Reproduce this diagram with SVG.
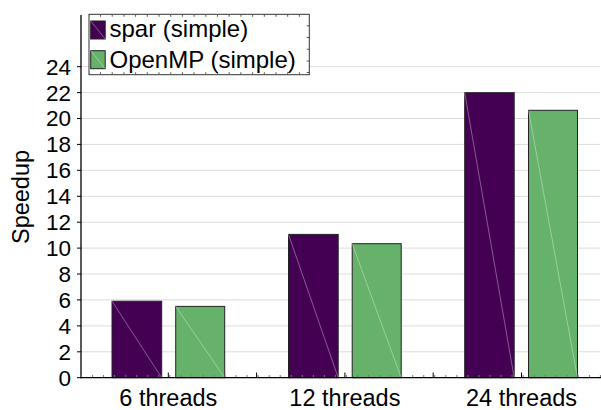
<svg xmlns="http://www.w3.org/2000/svg" width="601" height="410" viewBox="0 0 601 410">
<style>
.grid{stroke:#dcdcdc;stroke-width:1}
.axis{stroke:#000;stroke-width:1.3;fill:none}
.tick{stroke:#000;stroke-width:1}
.lbl{font-family:"Liberation Sans",Arial,sans-serif;font-size:22.5px;fill:#000}
.ytl{text-anchor:end}
.xtl{text-anchor:middle;font-size:23.5px}
.spar{fill:#440154;stroke:#222;stroke-width:1}
.omp{fill:#66b26a;stroke:#222;stroke-width:1}
.diag{stroke:#ffffff;stroke-opacity:0.35;stroke-width:1}
.leg{font-family:"Liberation Sans",Arial,sans-serif;font-size:24px;fill:#000}
</style>
<rect width="601" height="410" fill="#fff"/>
<g id="grid">
<line class="grid" x1="81" y1="351.8" x2="600" y2="351.8"/>
<line class="grid" x1="81" y1="325.9" x2="600" y2="325.9"/>
<line class="grid" x1="81" y1="299.9" x2="600" y2="299.9"/>
<line class="grid" x1="81" y1="274.0" x2="600" y2="274.0"/>
<line class="grid" x1="81" y1="248.1" x2="600" y2="248.1"/>
<line class="grid" x1="81" y1="222.2" x2="600" y2="222.2"/>
<line class="grid" x1="81" y1="196.3" x2="600" y2="196.3"/>
<line class="grid" x1="81" y1="170.3" x2="600" y2="170.3"/>
<line class="grid" x1="81" y1="144.4" x2="600" y2="144.4"/>
<line class="grid" x1="81" y1="118.5" x2="600" y2="118.5"/>
<line class="grid" x1="81" y1="92.6" x2="600" y2="92.6"/>
<line class="grid" x1="81" y1="66.7" x2="600" y2="66.7"/>
</g>
<g id="bars">
<g id="g6-spar"><rect class="spar" x="112" y="301.2" width="49.7" height="76.5"/><line class="diag" x1="112" y1="301.2" x2="161.7" y2="377.7"/></g>
<g id="g6-omp"><rect class="omp" x="175.7" y="306.4" width="49" height="71.3"/><line class="diag" x1="175.7" y1="306.4" x2="224.7" y2="377.7"/></g>
<g id="g12-spar"><rect class="spar" x="288.5" y="234.4" width="49.7" height="143.3"/><line class="diag" x1="288.5" y1="234.4" x2="338.2" y2="377.7"/></g>
<g id="g12-omp"><rect class="omp" x="352.2" y="243.7" width="49" height="134"/><line class="diag" x1="352.2" y1="243.7" x2="401.2" y2="377.7"/></g>
<g id="g24-spar"><rect class="spar" x="464.7" y="92.7" width="49.5" height="285"/><line class="diag" x1="464.7" y1="92.7" x2="514.2" y2="377.7"/></g>
<g id="g24-omp"><rect class="omp" x="528.5" y="110.3" width="49" height="267.4"/><line class="diag" x1="528.5" y1="110.3" x2="577.5" y2="377.7"/></g>
</g>
<g id="axes">
<line class="axis" x1="81" y1="15" x2="81" y2="378.3"/>
<line class="axis" x1="80.4" y1="377.7" x2="601" y2="377.7"/>
<line x1="81" y1="376" x2="601" y2="376" stroke="#777" stroke-width="2" stroke-dasharray="1 10.04"/>
<path class="tick" d="M77 377.7H81M77 351.8H81M77 325.9H81M77 299.9H81M77 274H81M77 248.1H81M77 222.2H81M77 196.3H81M77 170.3H81M77 144.4H81M77 118.5H81M77 92.6H81M77 66.7H81"/>
<path class="tick" d="M168.3 377.7V372.5M256.6 377.7V372.5M344.9 377.7V372.5M433.2 377.7V372.5M521.5 377.7V372.5"/>
</g>
<g id="yticks" class="lbl ytl">
<text x="71" y="385.6">0</text>
<text x="71" y="359.7">2</text>
<text x="71" y="333.8">4</text>
<text x="71" y="307.8">6</text>
<text x="71" y="281.9">8</text>
<text x="71" y="256">10</text>
<text x="71" y="230.1">12</text>
<text x="71" y="204.2">14</text>
<text x="71" y="178.2">16</text>
<text x="71" y="152.3">18</text>
<text x="71" y="126.4">20</text>
<text x="71" y="100.5">22</text>
<text x="71" y="74.6">24</text>
</g>
<g id="xlabels" class="lbl xtl">
<text x="168.3" y="405.5">6 threads</text>
<text x="344.9" y="405.5">12 threads</text>
<text x="521.5" y="405.5">24 threads</text>
</g>
<text id="ylabel" class="lbl" style="font-size:23.5px" text-anchor="middle" transform="translate(28.5,197) rotate(-90)">Speedup</text>
<g id="legend">
<rect x="89" y="14.3" width="220.3" height="60.4" fill="#fff" stroke="#333" stroke-width="1"/>
<line x1="89" y1="15.6" x2="309" y2="15.6" stroke="#555" stroke-width="2.5" stroke-dasharray="1 10.7" stroke-dashoffset="-11"/>
<line x1="89" y1="73.4" x2="309" y2="73.4" stroke="#555" stroke-width="2.5" stroke-dasharray="1 10.7" stroke-dashoffset="-11"/>
<line x1="308" y1="14.3" x2="308" y2="74.7" stroke="#555" stroke-width="2.5" stroke-dasharray="1 10.7" stroke-dashoffset="-11"/>
<g id="leg-spar"><rect class="spar" x="90.7" y="21" width="14.5" height="18"/><line class="diag" x1="90.7" y1="21" x2="105.2" y2="39"/><text class="leg" x="109.5" y="37">spar (simple)</text></g>
<g id="leg-omp"><rect class="omp" x="90.7" y="50.7" width="14.5" height="18"/><line class="diag" x1="90.7" y1="50.7" x2="105.2" y2="68.7"/><text class="leg" x="109.5" y="68">OpenMP (simple)</text></g>
</g>
</svg>
